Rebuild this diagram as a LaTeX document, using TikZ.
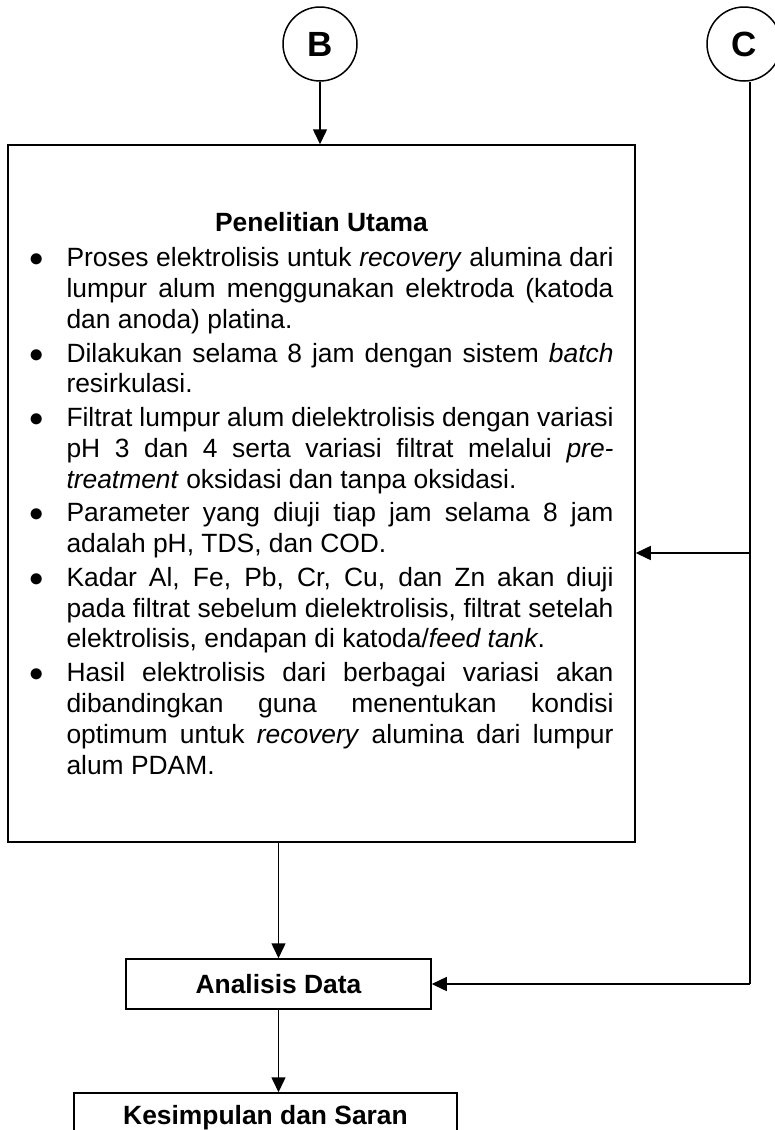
\documentclass[tikz,border=0pt]{standalone}
\usepackage{fontspec}
\setmainfont{Liberation Sans}
\usetikzlibrary{arrows.meta,positioning}
\newcommand{\itm}[1]{\par\vspace{1.3pt}\noindent\hangindent=18.5pt\hangafter=1\makebox[18.5pt][l]{{\fontsize{14.5}{14.5}\selectfont$\bullet$}}#1\par}

\begin{document}
\begin{tikzpicture}[x=0.5pt, y=-0.5pt,
  conn/.style={line width=0.75pt},
  box/.style={draw, conn, inner sep=0pt},
  arr/.style={conn, -{Triangle[length=7.5pt,width=7pt]}},
  txt/.style={font=\fontsize{13.2}{15.45}\selectfont},
  lbl/.style={font=\fontsize{13.2}{15.5}\selectfont\bfseries},
  conn_circ/.style={draw, circle, conn, minimum size=37pt, inner sep=0pt, font=\fontsize{17.5}{20}\selectfont\bfseries}]
\useasboundingbox (0,0) rectangle (775,1130);

\node[conn_circ] (B) at (320,44) {B};
\node[conn_circ] (C) at (744,44) {C};

\node[box, txt, minimum width=313.5pt, minimum height=348.5pt, text width=292pt, align=justify] (main) at (321.5,493.5)
{
  \hyphenpenalty=10000
  {\centering\bfseries Penelitian Utama\par}\vspace{0.8pt}
  \itm{Proses elektrolisis untuk \textit{recovery} alumina dari\linebreak lumpur alum menggunakan elektroda (katoda\linebreak dan anoda) platina.}
  \itm{Dilakukan selama 8 jam dengan sistem \textit{batch}\linebreak resirkulasi.}
  \itm{Filtrat lumpur alum dielektrolisis dengan variasi\linebreak pH 3 dan 4 serta variasi filtrat melalui \textit{pre-}\linebreak \textit{treatment} oksidasi dan tanpa oksidasi.}
  \itm{Parameter yang diuji tiap jam selama 8 jam\linebreak adalah pH, TDS, dan COD.}
  \itm{Kadar Al, Fe, Pb, Cr, Cu, dan Zn akan diuji\linebreak pada filtrat sebelum dielektrolisis, filtrat setelah\linebreak elektrolisis, endapan di katoda/\textit{feed tank}.}
  \itm{Hasil elektrolisis dari berbagai variasi akan\linebreak dibandingkan guna menentukan kondisi\linebreak optimum untuk \textit{recovery} alumina dari lumpur\linebreak alum PDAM.}
};

\node[box, lbl, minimum width=152.5pt, minimum height=25pt] (ana) at (278.5,984) {Analisis Data};
\node[box, lbl, minimum width=191.5pt, minimum height=25pt] (kes) at (265.5,1118) {Kesimpulan dan Saran};

% side line from C
\coordinate (cbend) at (750,984);
\coordinate (cmid) at (750,553);

\draw[arr] (B) -- (B |- main.north);
\draw[arr] (main.south -| ana.north) -- (ana.north);
\draw[arr] (ana.south) -- (ana.south |- kes.north);
\draw[conn] (C.south -| cbend) -- (cbend);
\draw[arr] (cbend) -- (ana.east);
\draw[arr] (cmid) -- (cmid -| main.east);
\end{tikzpicture}
\end{document}
